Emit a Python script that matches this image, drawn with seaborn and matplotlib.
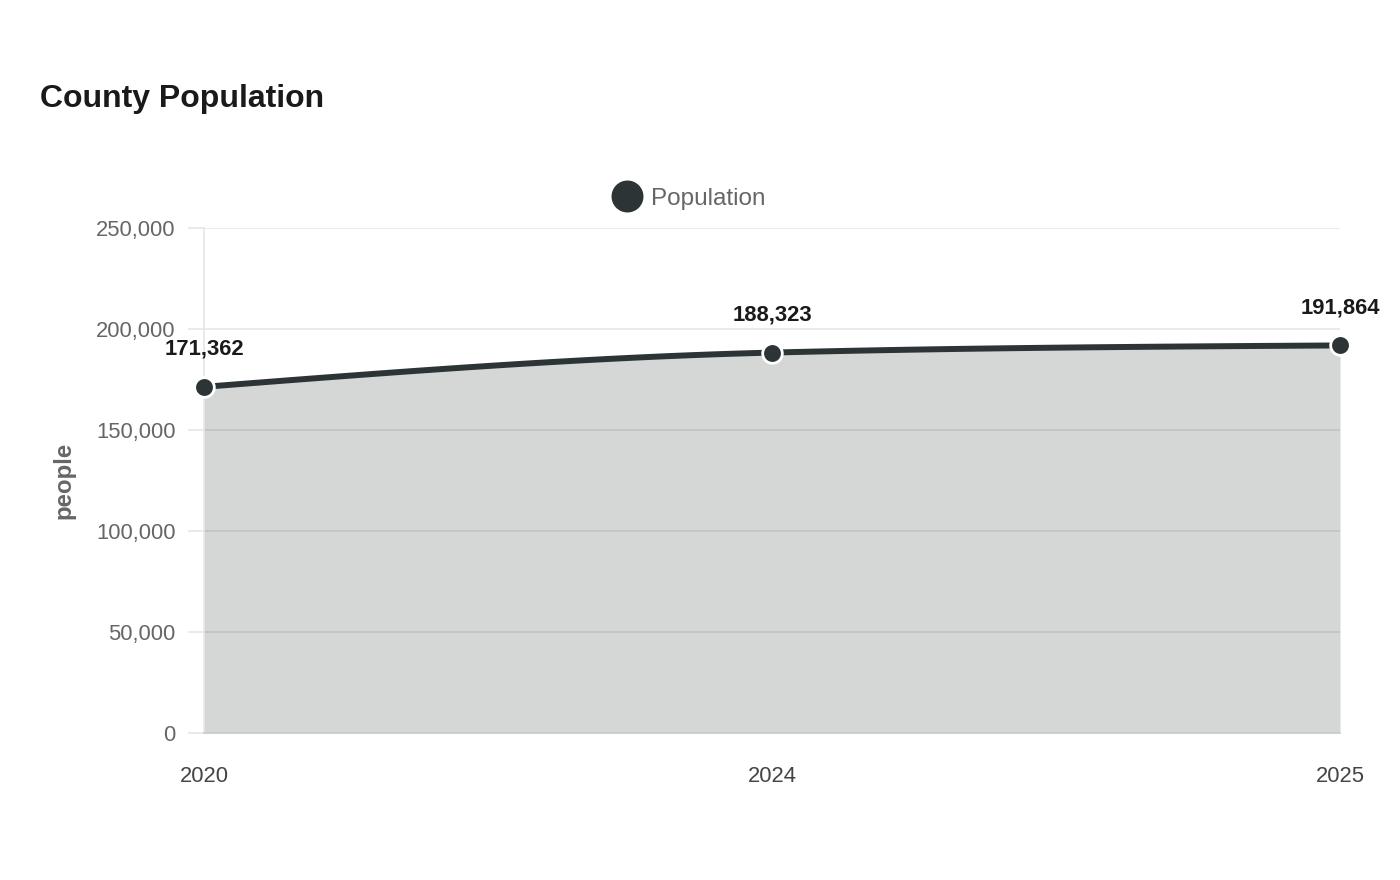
import numpy as np
import pandas as pd
import matplotlib
matplotlib.use("Agg")
import matplotlib.pyplot as plt
from matplotlib.lines import Line2D
import seaborn as sns

years = ["2020", "2024", "2025"]
population = [171362, 188323, 191864]
y_ticks = [0, 50000, 100000, 150000, 200000, 250000]

sns.set_theme(style="white")
plt.rcParams['font.family'] = ['Liberation Sans', 'DejaVu Sans']

LINE = "#2d3436"
GRID = "#e6e6e6"

fig = plt.figure(figsize=(14, 8.8), dpi=100)
ax = fig.add_axes([204/1400, 1 - 733/880, (1340-204)/1400, (733-228)/880])

df = pd.DataFrame({"x": np.arange(len(years)), "year": years, "population": population})

# monotone cubic (d3 curveMonotoneX style) rendering of the line
def monotone_curve(x, y, n=60):
    x = np.asarray(x, float); y = np.asarray(y, float)
    h = np.diff(x); d = np.diff(y) / h
    m = np.zeros_like(y)
    for i in range(1, len(y) - 1):
        if d[i-1] * d[i] <= 0:
            m[i] = 0
        else:
            m[i] = (d[i-1]*h[i] + d[i]*h[i-1]) / (h[i-1] + h[i])
            m[i] = np.sign(d[i]) * min(abs(m[i]), 2*abs(d[i-1]), 2*abs(d[i]))
    if len(y) > 2:
        m[0] = (3*d[0] - m[1]) / 2
        m[-1] = (3*d[-1] - m[-2]) / 2
    else:
        m[0] = m[-1] = d[0]
    xs, ys = [], []
    for i in range(len(h)):
        t = np.linspace(0, 1, n)
        h00 = 2*t**3 - 3*t**2 + 1; h10 = t**3 - 2*t**2 + t
        h01 = -2*t**3 + 3*t**2; h11 = t**3 - t**2
        xs.append(x[i] + t*h[i])
        ys.append(h00*y[i] + h10*h[i]*m[i] + h01*y[i+1] + h11*h[i]*m[i+1])
    return np.concatenate(xs), np.concatenate(ys)

cx, cy = monotone_curve(df["x"], df["population"])

ax.set_axisbelow(True)
ax.yaxis.grid(True, color=GRID, linewidth=1.2)
ax.fill_between(cx, 0, cy, color=LINE, alpha=0.2, linewidth=0, zorder=2)
ax.plot(cx, cy, color=LINE, linewidth=4.3, solid_capstyle="round", zorder=3, clip_on=False)
sns.scatterplot(data=df, x="x", y="population", ax=ax, s=200, color=LINE,
                edgecolor="white", linewidth=2, zorder=4, legend=False, clip_on=False)

for xi, yi in zip(df["x"], df["population"]):
    ax.annotate(f"{yi:,}", (xi, yi), xytext=(0, 27), textcoords="offset points",
                ha="center", va="center", fontsize=15.8, fontweight="bold",
                color="#1a1a1a", annotation_clip=False)

ax.set_xlim(0, len(years) - 1)
ax.set_ylim(0, 250000)
ax.set_xticks(df["x"])
ax.set_xticklabels(years)
ax.set_yticks(y_ticks)
ax.set_yticklabels([f"{v:,}" for v in y_ticks])
ax.tick_params(axis="y", left=True, length=11.5, width=1.2, color=GRID, pad=9,
               labelsize=15.8, labelcolor="#666666")
ax.tick_params(axis="x", bottom=False, length=0, pad=24, labelsize=15.8, labelcolor="#444444")
ax.set_xlabel("")
ax.set_ylabel("people", fontsize=17.3, fontweight="bold", color="#666666")
ax.yaxis.set_label_coords((75 - 204) / (1340 - 204), 0.5)

for s in ["top", "right"]:
    ax.spines[s].set_visible(False)
ax.spines["left"].set_color(GRID)
ax.spines["left"].set_linewidth(1.2)
ax.spines["bottom"].set_color("#cccccc")
ax.spines["bottom"].set_linewidth(1.2)

fig.text(40/1400, 1 - 99/880, "County Population", fontsize=23, fontweight="bold",
         color="#1a1a1a", ha="left", va="center")

handle = Line2D([], [], marker="o", linestyle="none", markersize=22,
                markerfacecolor=LINE, markeredgecolor=LINE)
fig.legend([handle], ["Population"], loc="center", bbox_to_anchor=(690/1400, 1 - 199/880),
           frameon=False, fontsize=17.5, labelcolor="#666666", handletextpad=0.5,
           handlelength=1.0)

fig.savefig("out.png", dpi=100)
